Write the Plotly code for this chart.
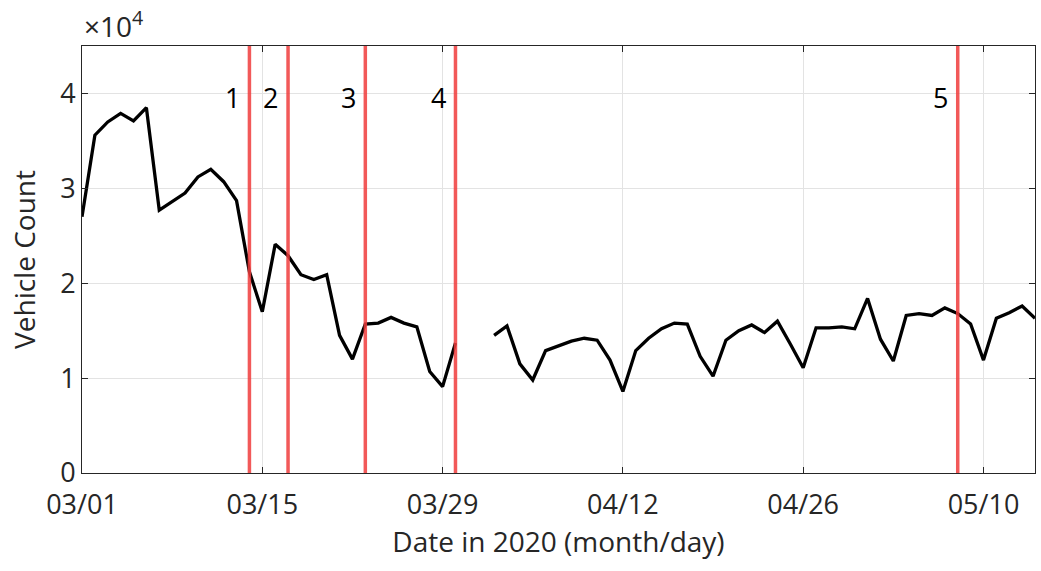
import pandas as pd
import plotly.graph_objects as go

# Daily vehicle counts (x 10^4), 2020-03-01 .. 2020-05-14; None = missing
dates = pd.date_range("2020-03-01", "2020-05-14", freq="D")
counts = [
    2.70, 3.56, 3.70, 3.79, 3.71, 3.85, 2.77, 2.86, 2.95, 3.12,
    3.20, 3.07, 2.87, 2.12, 1.70, 2.41, 2.29, 2.09, 2.04, 2.09,
    1.45, 1.20, 1.57, 1.58, 1.64, 1.58, 1.54, 1.07, 0.91, 1.37,
    None, None, 1.45, 1.55, 1.15, 0.98, 1.29, 1.34, 1.39, 1.42,
    1.40, 1.19, 0.86, 1.29, 1.42, 1.52, 1.58, 1.57, 1.23, 1.02,
    1.40, 1.50, 1.56, 1.48, 1.60, 1.36, 1.11, 1.53, 1.53, 1.54,
    1.52, 1.84, 1.41, 1.18, 1.66, 1.68, 1.66, 1.74, 1.68, 1.57,
    1.19, 1.63, 1.69, 1.76, 1.63,
]

event_dates = ["2020-03-14", "2020-03-17", "2020-03-23", "2020-03-30", "2020-05-08"]
event_labels = ["1", "2", "3", "4", "5"]

tick_dates = ["2020-03-01", "2020-03-15", "2020-03-29", "2020-04-12", "2020-04-26", "2020-05-10"]
tick_text = ["03/01", "03/15", "03/29", "04/12", "04/26", "05/10"]
y_ticks = [0, 1, 2, 3, 4]

FONT = "Open Sans"
AX = "#262626"

fig = go.Figure()
fig.add_trace(go.Scatter(
    x=dates, y=counts, mode="lines",
    line=dict(color="black", width=3.3),
    connectgaps=False, showlegend=False,
))

for d, lab in zip(event_dates, event_labels):
    fig.add_shape(type="line", x0=d, x1=d, y0=0, y1=1, xref="x", yref="paper",
                  line=dict(color="rgba(240,60,60,0.85)", width=3.5), layer="above")
    fig.add_annotation(x=pd.Timestamp(d) - pd.Timedelta(hours=32), y=3.96, text=lab,
                       showarrow=False, xref="x", yref="y",
                       font=dict(family=FONT, size=27, color="black"))

fig.add_annotation(x=0, y=1, xref="paper", yref="paper", xanchor="left", yanchor="bottom",
                   xshift=0, yshift=-1, text="×10<sup>4</sup>", showarrow=False,
                   font=dict(family=FONT, size=28, color=AX))

fig.update_layout(
    width=1041, height=571,
    margin=dict(l=82, r=6, t=46, b=98),
    paper_bgcolor="white", plot_bgcolor="white",
    font=dict(family=FONT, size=27, color=AX),
    xaxis=dict(
        range=["2020-03-01", "2020-05-14"],
        tickvals=tick_dates, ticktext=tick_text,
        ticks="inside", ticklen=6, tickcolor=AX,
        ticklabelstandoff=8,
        showline=True, linecolor=AX, linewidth=1, mirror="ticks",
        showgrid=True, gridcolor="#e3e3e3", gridwidth=1,
        zeroline=False,
        title=dict(text="Date in 2020 (month/day)", font=dict(size=28), standoff=8),
        tickfont=dict(size=27),
    ),
    yaxis=dict(
        range=[0, 4.5],
        tickvals=y_ticks,
        ticks="inside", ticklen=6, tickcolor=AX,
        showline=True, linecolor=AX, linewidth=1, mirror="ticks",
        showgrid=True, gridcolor="#e3e3e3", gridwidth=1,
        zeroline=False,
        title=dict(text="Vehicle Count", font=dict(size=28), standoff=16),
        tickfont=dict(size=27),
    ),
)

fig.write_html("out.html")
